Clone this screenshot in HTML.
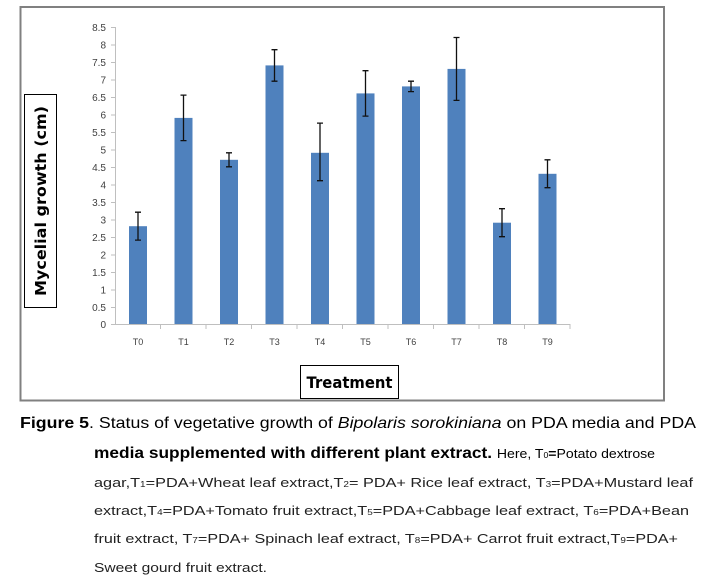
<!DOCTYPE html>
<html><head><meta charset="utf-8"><style>
html,body{margin:0;padding:0;background:#fff;}
svg{display:block;}
</style></head><body>
<svg width="714" height="579" viewBox="0 0 714 579" xmlns="http://www.w3.org/2000/svg" font-family="Liberation Sans, sans-serif">
<rect x="0" y="0" width="714" height="579" fill="#fff"/>
<rect x="20.5" y="7" width="643.5" height="393.5" fill="#fff" stroke="#808080" stroke-width="2"/>
<g stroke="#bfbfbf" stroke-width="1">
<line x1="115.5" y1="27" x2="115.5" y2="324"/>
<line x1="115" y1="324.5" x2="570" y2="324.5"/>
</g>
<g stroke="#bfbfbf" stroke-width="1">
<line x1="111" x2="115" y1="27.5" y2="27.5"/><line x1="111" x2="115" y1="45" y2="45"/><line x1="111" x2="115" y1="62.5" y2="62.5"/><line x1="111" x2="115" y1="80" y2="80"/><line x1="111" x2="115" y1="97.5" y2="97.5"/><line x1="111" x2="115" y1="115" y2="115"/><line x1="111" x2="115" y1="132.5" y2="132.5"/><line x1="111" x2="115" y1="150" y2="150"/><line x1="111" x2="115" y1="167.5" y2="167.5"/><line x1="111" x2="115" y1="185" y2="185"/><line x1="111" x2="115" y1="202.5" y2="202.5"/><line x1="111" x2="115" y1="220" y2="220"/><line x1="111" x2="115" y1="237.5" y2="237.5"/><line x1="111" x2="115" y1="255" y2="255"/><line x1="111" x2="115" y1="272.5" y2="272.5"/><line x1="111" x2="115" y1="290" y2="290"/><line x1="111" x2="115" y1="307.5" y2="307.5"/><line x1="111" x2="115" y1="324.5" y2="324.5"/>
</g>
<g stroke="#bfbfbf"><line x1="160.5" x2="160.5" y1="324" y2="329"/><line x1="206" x2="206" y1="324" y2="329"/><line x1="251.5" x2="251.5" y1="324" y2="329"/><line x1="297" x2="297" y1="324" y2="329"/><line x1="342.5" x2="342.5" y1="324" y2="329"/><line x1="388" x2="388" y1="324" y2="329"/><line x1="433.5" x2="433.5" y1="324" y2="329"/><line x1="479" x2="479" y1="324" y2="329"/><line x1="524.5" x2="524.5" y1="324" y2="329"/><line x1="570" x2="570" y1="324" y2="329"/></g>
<g font-size="10" fill="#404040" text-anchor="end">
<text x="106" y="31">8.5</text><text x="106" y="48.5">8</text><text x="106" y="66">7.5</text><text x="106" y="83.5">7</text><text x="106" y="101">6.5</text><text x="106" y="118.5">6</text><text x="106" y="136">5.5</text><text x="106" y="153.5">5</text><text x="106" y="171">4.5</text><text x="106" y="188.5">4</text><text x="106" y="206">3.5</text><text x="106" y="223.5">3</text><text x="106" y="241">2.5</text><text x="106" y="258.5">2</text><text x="106" y="276">1.5</text><text x="106" y="293.5">1</text><text x="106" y="311">0.5</text><text x="106" y="328">0</text>
</g>
<g font-size="9" fill="#404040" text-anchor="middle">
<text x="138" y="345">T0</text><text x="183.5" y="345">T1</text><text x="229" y="345">T2</text><text x="274.5" y="345">T3</text><text x="320" y="345">T4</text><text x="365.5" y="345">T5</text><text x="411" y="345">T6</text><text x="456.5" y="345">T7</text><text x="502" y="345">T8</text><text x="547.5" y="345">T9</text>
</g>
<g fill="#4f81bd">
<rect x="129" y="226.2" width="18" height="97.8"/>
<rect x="174.5" y="117.9" width="18" height="206.1"/>
<rect x="220" y="159.8" width="18" height="164.2"/>
<rect x="265.5" y="65.4" width="18" height="258.6"/>
<rect x="311" y="152.8" width="18" height="171.2"/>
<rect x="356.5" y="93.4" width="18" height="230.6"/>
<rect x="402" y="86.4" width="18" height="237.6"/>
<rect x="447.5" y="68.9" width="18" height="255.1"/>
<rect x="493" y="222.7" width="18" height="101.3"/>
<rect x="538.5" y="173.8" width="18" height="150.2"/>
</g>
<g stroke="#111" stroke-width="1.3" fill="none">
<path d="M138 212.2V240.1M135 212.2H141M135 240.1H141"/>
<path d="M183.5 95.1V140.6M180.5 95.1H186.5M180.5 140.6H186.5"/>
<path d="M229 152.8V166.8M226 152.8H232M226 166.8H232"/>
<path d="M274.5 49.7V81.2M271.5 49.7H277.5M271.5 81.2H277.5"/>
<path d="M320 123.1V180.7M317 123.1H323M317 180.7H323"/>
<path d="M365.5 70.7V116.1M362.5 70.7H368.5M362.5 116.1H368.5"/>
<path d="M411 81.2V91.6M408 81.2H414M408 91.6H414"/>
<path d="M456.5 37.5V100.4M453.5 37.5H459.5M453.5 100.4H459.5"/>
<path d="M502 208.7V236.7M499 208.7H505M499 236.7H505"/>
<path d="M547.5 159.8V187.7M544.5 159.8H550.5M544.5 187.7H550.5"/>
</g>
<rect x="24.5" y="94.5" width="32" height="213" fill="#fff" stroke="#000" stroke-width="1"/>
<text transform="translate(46,201) rotate(-90)" text-anchor="middle" font-size="15" font-weight="bold" font-family="DejaVu Sans, sans-serif" textLength="190" lengthAdjust="spacingAndGlyphs">Mycelial growth (cm)</text>
<rect x="300.5" y="365.5" width="98" height="33" fill="#fff" stroke="#000" stroke-width="1"/>
<text x="349.5" y="388" text-anchor="middle" font-size="16" font-weight="bold" font-family="DejaVu Sans, sans-serif" textLength="86" lengthAdjust="spacingAndGlyphs">Treatment</text>
<text x="20" y="428" font-size="16" textLength="676" lengthAdjust="spacingAndGlyphs"><tspan font-weight="bold">Figure 5</tspan>. Status of vegetative growth of <tspan font-style="italic">Bipolaris sorokiniana</tspan> on PDA media and PDA</text>
<text x="94" y="458" font-size="16" textLength="561" lengthAdjust="spacingAndGlyphs"><tspan font-weight="bold">media supplemented with different plant extract.</tspan> <tspan font-size="13">Here, T<tspan font-size="8">0</tspan><tspan font-weight="bold">=</tspan>Potato dextrose</tspan></text>
<g font-size="13" fill="#222">
<text x="94" y="487" textLength="599" lengthAdjust="spacingAndGlyphs">agar,T<tspan font-size="8">1</tspan>=PDA+Wheat  leaf extract,T<tspan font-size="8">2</tspan>=  PDA+ Rice leaf extract,  T<tspan font-size="8">3</tspan>=PDA+Mustard  leaf</text>
<text x="94" y="515" textLength="595" lengthAdjust="spacingAndGlyphs">extract,T<tspan font-size="8">4</tspan>=PDA+Tomato  fruit  extract,T<tspan font-size="8">5</tspan>=PDA+Cabbage  leaf extract,  T<tspan font-size="8">6</tspan>=PDA+Bean</text>
<text x="94" y="543" textLength="584" lengthAdjust="spacingAndGlyphs">fruit  extract,  T<tspan font-size="8">7</tspan>=PDA+  Spinach  leaf extract,  T<tspan font-size="8">8</tspan>=PDA+  Carrot fruit extract,T<tspan font-size="8">9</tspan>=PDA+</text>
<text x="94" y="572" textLength="173" lengthAdjust="spacingAndGlyphs">Sweet gourd fruit extract.</text>
</g>
</svg>
</body></html>
